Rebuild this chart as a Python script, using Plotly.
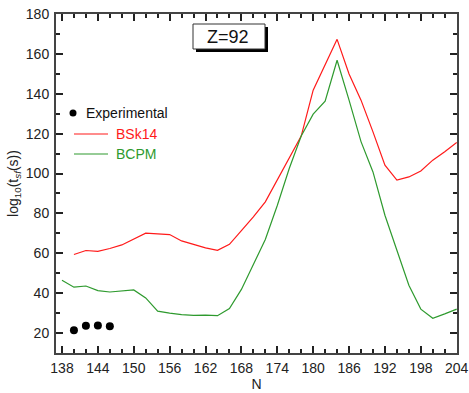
import plotly.graph_objects as go

N_bsk = [140,142,144,146,148,150,152,154,156,158,160,162,164,166,168,170,172,174,176,178,180,182,184,186,188,190,192,194,196,198,200,202,204]
bsk14 = [59.4,61.4,61.0,62.4,64.2,67.0,70.1,69.7,69.4,66.2,64.4,62.7,61.5,64.5,71.4,78.3,85.8,96.7,107.6,118.8,141.8,154.4,167.3,149.9,136.8,120.9,104.2,96.7,98.3,101.3,106.7,110.9,115.6]

N_bcpm = [138,140,142,144,146,148,150,152,154,156,158,160,162,164,166,168,170,172,174,176,178,180,182,184,186,188,190,192,194,196,198,200,202,204]
bcpm = [46.5,43.0,43.6,41.3,40.6,41.0,41.6,37.6,31.0,30.0,29.2,28.9,29.0,28.7,32.3,41.9,54.8,66.9,84.0,102.5,118.8,129.8,136.3,156.8,136.8,116.0,100.8,79.1,61.5,44.0,32.0,27.4,29.6,32.0]

N_exp = [140,142,144,146]
exp_vals = [21.4,23.7,23.8,23.4]

x_ticks = [138,144,150,156,162,168,174,180,186,192,198,204]

RED = "#ff1a1a"
GREEN = "#2e9a2e"
FONT = "Liberation Sans, Arial, sans-serif"

fig = go.Figure()
fig.add_trace(go.Scatter(x=N_bsk, y=bsk14, mode="lines", line=dict(color=RED, width=1.2), name="BSk14", showlegend=False))
fig.add_trace(go.Scatter(x=N_bcpm, y=bcpm, mode="lines", line=dict(color=GREEN, width=1.2), name="BCPM", showlegend=False))
fig.add_trace(go.Scatter(x=N_exp, y=exp_vals, mode="markers", marker=dict(color="black", size=8), name="Experimental", showlegend=False))

# plot area in pixels: left 56, right 457, top 14, bottom 353
L, R, T, B = 56, 457, 14, 353
def px(x):
    return (x - L) / (R - L)
def py(y):
    return (B - y) / (B - T)

shapes = []
annotations = []
# manual legend
shapes.append(dict(type="circle", xref="paper", yref="paper",
                   x0=px(69.5), x1=px(76.5), y0=py(116.5), y1=py(109.5),
                   fillcolor="black", line=dict(color="black", width=0)))
annotations.append(dict(text="Experimental", xref="paper", yref="paper", x=px(84), y=py(113),
                        xanchor="left", yanchor="middle", showarrow=False, font=dict(size=14, color="#111", family=FONT)))
shapes.append(dict(type="line", xref="paper", yref="paper", x0=px(74), x1=px(108), y0=py(134), y1=py(134),
                   line=dict(color=RED, width=1.2)))
annotations.append(dict(text="BSk14", xref="paper", yref="paper", x=px(114), y=py(134),
                        xanchor="left", yanchor="middle", showarrow=False, font=dict(size=14, color=RED, family=FONT)))
shapes.append(dict(type="line", xref="paper", yref="paper", x0=px(74), x1=px(108), y0=py(154), y1=py(154),
                   line=dict(color=GREEN, width=1.2)))
annotations.append(dict(text="BCPM", xref="paper", yref="paper", x=px(114), y=py(154),
                        xanchor="left", yanchor="middle", showarrow=False, font=dict(size=14, color=GREEN, family=FONT)))

# Z=92 box with shadow
shapes.append(dict(type="rect", xref="paper", yref="paper", x0=px(196), x1=px(268), y0=py(52), y1=py(27),
                   fillcolor="black", line=dict(width=0)))
shapes.append(dict(type="rect", xref="paper", yref="paper", x0=px(193), x1=px(265), y0=py(49), y1=py(24),
                   fillcolor="white", line=dict(color="#333", width=1)))
annotations.append(dict(text="Z=92", xref="paper", yref="paper", x=px(228), y=py(37),
                        xanchor="center", yanchor="middle", showarrow=False, font=dict(size=18, color="#111", family=FONT)))

axis_common = dict(showgrid=False, zeroline=False, showline=True, linecolor="#444", linewidth=2,
                   ticks="inside", tickcolor="#222", tickwidth=2, ticklen=7, mirror="ticks", automargin=False,
                   tickfont=dict(size=14, color="#222", family=FONT))

fig.update_layout(
    width=469, height=393,
    margin=dict(l=L, r=469 - R, t=T, b=393 - B, autoexpand=False),
    paper_bgcolor="white", plot_bgcolor="white",
    font=dict(family=FONT, color="#222"),
    shapes=shapes, annotations=annotations,
    xaxis=dict(range=[137, 204.05], tickmode="array", tickvals=x_ticks, ticklabelstandoff=1,
               minor=dict(dtick=2, tick0=138, ticks="inside", ticklen=4, tickwidth=1.5, tickcolor="#222"),
               title=dict(text="N", font=dict(size=14, family=FONT, color="#222"), standoff=4),
               **axis_common),
    yaxis=dict(range=[10, 180], tickmode="linear", tick0=20, dtick=20, ticklabelstandoff=2,
               minor=dict(dtick=10, ticks="inside", ticklen=4, tickwidth=1.5, tickcolor="#222"),
               title=dict(text="log<sub>10</sub>(t<sub><i>sf</i></sub>(s))", font=dict(size=14, family=FONT, color="#222"), standoff=4),
               **axis_common),
)

fig.write_html("out.html")
